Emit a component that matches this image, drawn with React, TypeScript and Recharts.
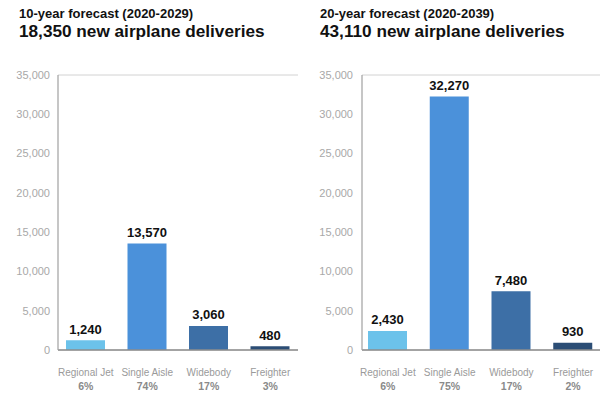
import React from "react";
import { BarChart, Bar, XAxis, YAxis, CartesianGrid, Cell, LabelList } from "recharts";

const categories = ["Regional Jet", "Single Aisle", "Widebody", "Freighter"];
const tenYearValues = [1240, 13570, 3060, 480];
const tenYearShares = ["6%", "74%", "17%", "3%"];
const twentyYearValues = [2430, 32270, 7480, 930];
const twentyYearShares = ["6%", "75%", "17%", "2%"];
const barColors = ["#6cc2ea", "#4b91da", "#3d6fa6", "#2b4d75"];
const yTicks = [0, 5000, 10000, 15000, 20000, 25000, 30000, 35000];

const FONT = '"Liberation Sans", Arial, Helvetica, sans-serif';

const fmt = (v: number) => v.toLocaleString("en-US");

const ValueLabel = (props: any) => {
  const { x, y, width, value } = props;
  const cx = x + width / 2;
  const text = fmt(value);
  const w = text.length * 7.2 + 12;
  return (
    <g>
      <rect x={cx - w / 2} y={y - 20} width={w} height={17} fill="#ffffff" />
      <text x={cx} y={y - 6.5} textAnchor="middle" fontFamily={FONT} fontSize={13} fontWeight="bold" fill="#111111">
        {text}
      </text>
    </g>
  );
};

const makeTick = (shares: string[]) => (props: any) => {
  const { x, y, payload } = props;
  const idx = categories.indexOf(payload.value);
  return (
    <g>
      <text x={x} y={y + 18} textAnchor="middle" fontFamily={FONT} fontSize={10} fill="#9a9a9a">
        {payload.value}
      </text>
      <text x={x} y={y + 32} textAnchor="middle" fontFamily={FONT} fontSize={10.5} fontWeight="bold" fill="#8a8a8a">
        {shares[idx]}
      </text>
    </g>
  );
};

type PanelProps = {
  values: number[];
  shares: string[];
  yWidth: number;
  tickMargin: number;
  rightBorder: boolean;
  padding: { left: number; right: number };
};

const Panel = ({ values, shares, yWidth, tickMargin, rightBorder, padding }: PanelProps) => {
  const data = categories.map((c, i) => ({ name: c, value: values[i] }));
  return (
    <BarChart
      width={300}
      height={398}
      data={data}
      margin={{ top: 75, right: rightBorder ? 2 : 0, left: 0, bottom: 0 }}
    >
      <CartesianGrid vertical={false} stroke="#d2d2d2" strokeWidth={1} />
      <XAxis
        dataKey="name"
        height={48}
        axisLine={{ stroke: "#8c8c8c", strokeWidth: 1.5 }}
        tickLine={false}
        tick={makeTick(shares)}
        interval={0}
        padding={padding}
      />
      <YAxis
        yAxisId="l"
        width={yWidth}
        domain={[0, 35000]}
        ticks={yTicks}
        tickFormatter={fmt}
        axisLine={{ stroke: "#a0a0a0", strokeWidth: 1.2 }}
        tickLine={false}
        tickMargin={tickMargin}
        tick={{ fontFamily: FONT, fontSize: 11, fill: "#a8a8a8" }}
      />
      {rightBorder && (
        <YAxis
          yAxisId="r"
          orientation="right"
          width={0}
          domain={[0, 35000]}
          tick={false}
          tickLine={false}
          axisLine={{ stroke: "#d2d2d2" }}
        />
      )}
      <Bar yAxisId="l" dataKey="value" barSize={39} isAnimationActive={false}>
        {data.map((d, i) => (
          <Cell key={d.name} fill={barColors[i]} />
        ))}
        <LabelList dataKey="value" content={ValueLabel} />
      </Bar>
    </BarChart>
  );
};

export default function App() {
  return (
    <div style={{ position: "absolute", left: 0, top: 0, width: 600, height: 398, overflow: "hidden", background: "#fff", fontFamily: FONT }}>
      <div style={{ position: "absolute", left: 19, top: 6, fontSize: 13, fontWeight: "bold", color: "#111", whiteSpace: "nowrap" }}>
        10-year forecast (2020-2029)
      </div>
      <div style={{ position: "absolute", left: 19, top: 21, fontSize: 17.2, fontWeight: "bold", color: "#111", whiteSpace: "nowrap" }}>
        18,350 new airplane deliveries
      </div>
      <div style={{ position: "absolute", left: 320, top: 6, fontSize: 13, fontWeight: "bold", color: "#111", whiteSpace: "nowrap" }}>
        20-year forecast (2020-2039)
      </div>
      <div style={{ position: "absolute", left: 320, top: 21, fontSize: 17.2, fontWeight: "bold", color: "#111", whiteSpace: "nowrap" }}>
        43,110 new airplane deliveries
      </div>
      <div style={{ position: "absolute", left: 0, top: 0 }}>
        <Panel values={tenYearValues} shares={tenYearShares} yWidth={58} tickMargin={2} rightBorder={true} padding={{ left: -3, right: -3 }} />
      </div>
      <div style={{ position: "absolute", left: 300, top: 0 }}>
        <Panel values={twentyYearValues} shares={twentyYearShares} yWidth={62} tickMargin={3} rightBorder={false} padding={{ left: -5, right: -4 }} />
      </div>
    </div>
  );
}
